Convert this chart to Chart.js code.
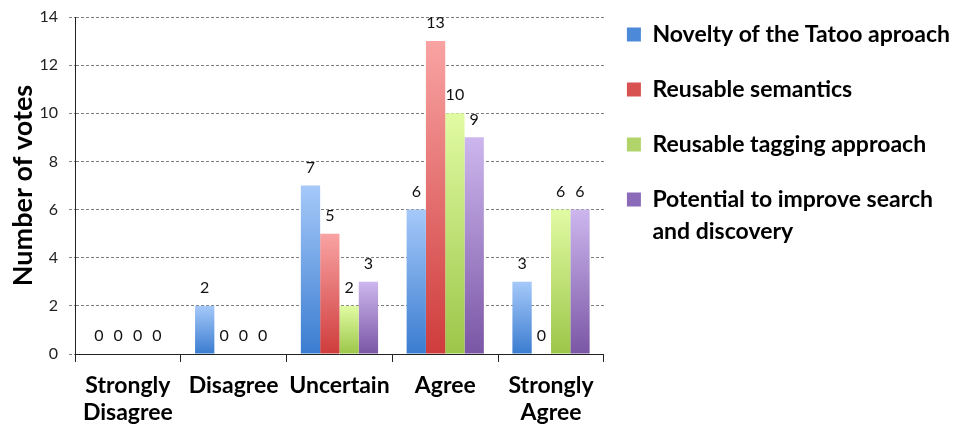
<!DOCTYPE html>
<html>
<head>
<meta charset="utf-8">
<script src="https://cdn.jsdelivr.net/npm/chart.js@4"></script>
<style>
  html, body { margin: 0; padding: 0; background: #fff; }
  #wrap { width: 960px; height: 428px; }
</style>
</head>
<body>
<div id="wrap"><canvas id="c" width="960" height="428"></canvas></div>
<script>
const categories = [['Strongly', 'Disagree'], 'Disagree', 'Uncertain', 'Agree', ['Strongly', 'Agree']];
const seriesNames = ['Novelty of the Tatoo aproach', 'Reusable semantics', 'Reusable tagging approach', 'Potential to improve search and discovery'];
const legendLines = [['Novelty of the Tatoo aproach'], ['Reusable semantics'], ['Reusable tagging approach'], ['Potential to improve search', 'and discovery']];
const noveltyVotes   = [0, 2, 7, 6, 3];
const semanticsVotes = [0, 0, 5, 13, 0];
const taggingVotes   = [0, 0, 2, 10, 6];
const potentialVotes = [0, 0, 3, 9, 6];
const yTicks = [0, 2, 4, 6, 8, 10, 12, 14];

const topColors    = ['#a6c9f9', '#f9a3a3', '#e1fba3', '#cdb7ee'];
const bottomColors = ['#3a7cd0', '#cf3c3c', '#9cc649', '#7a56a5'];
const legendColors = ['#4d89d9', '#d95252', '#b0d46a', '#8b6bb9'];

function barGradient(i) {
  return (ctx) => {
    const chart = ctx.chart;
    if (ctx.type !== 'data' || !chart.chartArea || !chart.scales.y) return legendColors[i];
    const y = chart.scales.y;
    const yTop = y.getPixelForValue(ctx.raw);
    const yBot = y.getPixelForValue(0);
    if (Math.abs(yBot - yTop) < 1) return bottomColors[i];
    const g = chart.ctx.createLinearGradient(0, yTop, 0, yBot);
    g.addColorStop(0, topColors[i]);
    g.addColorStop(1, bottomColors[i]);
    return g;
  };
}

const valueLabels = {
  id: 'valueLabels',
  afterDatasetsDraw(chart) {
    const ctx = chart.ctx;
    ctx.save();
    ctx.font = '16px Lato';
    ctx.fillStyle = '#111';
    ctx.textAlign = 'center';
    ctx.textBaseline = 'middle';
    chart.data.datasets.forEach((ds, di) => {
      const meta = chart.getDatasetMeta(di);
      meta.data.forEach((bar, j) => {
        ctx.fillText(String(ds.data[j]), bar.x, bar.y - 18);
      });
    });
    ctx.restore();
  }
};

const seriesData = [noveltyVotes, semanticsVotes, taggingVotes, potentialVotes];

new Chart(document.getElementById('c'), {
  type: 'bar',
  data: {
    labels: categories,
    datasets: seriesData.map((d, i) => ({
      label: seriesNames[i],
      data: d,
      backgroundColor: barGradient(i),
      borderWidth: 0,
      categoryPercentage: 0.73,
      barPercentage: 1.0
    }))
  },
  options: {
    responsive: false,
    animation: false,
    layout: { padding: { left: 7, top: 0, right: 0, bottom: 0 } },
    plugins: {
      tooltip: { enabled: false },
      legend: {
        position: 'right',
        align: 'start',
        maxWidth: 420,
        labels: {
          boxWidth: 14,
          boxHeight: 14,
          padding: 23,
          color: '#000',
          font: { family: 'Lato', size: 23, weight: 'bold', lineHeight: 32 / 23 },
          generateLabels: (chart) => chart.data.datasets.map((ds, i) => ({
            text: legendLines[i],
            fillStyle: legendColors[i],
            strokeStyle: legendColors[i],
            lineWidth: 0,
            hidden: false,
            datasetIndex: i,
            fontColor: '#000'
          }))
        }
      }
    },
    scales: {
      x: {
        afterFit: (scale) => { scale.height = 74; },
        grid: { display: true, drawOnChartArea: false, offset: true, tickLength: 8, color: '#222' },
        border: { display: true, color: '#222', width: 1 },
        ticks: {
          color: '#000',
          maxRotation: 0,
          autoSkip: false,
          padding: 10,
          font: { family: 'Lato', size: 23, weight: 'bold', lineHeight: 27 / 23 }
        }
      },
      y: {
        min: 0,
        max: 14,
        afterFit: (scale) => { scale.width = 68; },
        afterBuildTicks: (scale) => { scale.ticks = yTicks.map(v => ({ value: v })); },
        grid: { color: '#7f7f7f', lineWidth: 1, tickLength: 6, tickBorderDash: [3, 2] },
        border: { display: true, color: '#222', width: 1, dash: [3, 2] },
        ticks: {
          color: '#222',
          padding: 11,
          font: { family: 'Lato', size: 16, lineHeight: 12 / 16 }
        },
        title: {
          display: true,
          text: 'Number of votes',
          color: '#000',
          padding: { top: 0, bottom: 1 },
          font: { family: 'Lato', size: 27, weight: 'bold', lineHeight: 1.2 }
        }
      }
    }
  },
  plugins: [valueLabels]
});
</script>
</body>
</html>
